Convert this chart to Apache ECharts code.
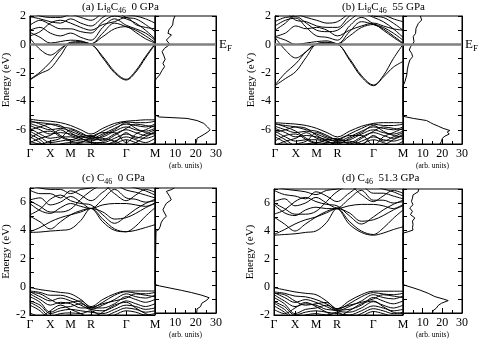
<!DOCTYPE html>
<html lang="en">
<head>
<meta charset="UTF-8">
<title>Band structures</title>
<script src="https://cdn.jsdelivr.net/npm/echarts@6/dist/echarts.min.js"></script>
<style>html,body{margin:0;padding:0;background:#fff;}</style>
</head>
<body>
<div id="main" style="width:479px;height:340px;"></div>
<script>
// k-path samples (simple cubic, path length units): G-X-M-R-G-M
var kPoints = [0, 0.25, 0.5, 0.75, 1.0, 1.25, 1.5, 1.79, 2.08, 2.366, 2.6, 2.84, 3.073];
var kTicks = [0, 0.5, 1.0, 1.5, 2.366, 3.073];
var kLabels = ['Γ', 'X', 'M', 'R', 'Γ', 'M'];

// (a) Li8C46 0 GPa, energies (eV) at kPoints
var bandsA = [
    [-2.5, -2.05, -1.7, -0.8, 0.05, 0.05, 0.0, -0.95, -2.0, -2.5, -1.95, -0.95, 0.0],
    [-2.45, -1.95, -1.25, -0.4, 0.1, 0.12, 0.02, -0.85, -1.9, -2.45, -1.85, -0.85, 0.05],
    [0.45, -0.35, -0.75, -0.3, 0.15, 0.2, 0.05, 0.55, 1.1, 1.25, 0.85, 0.4, 0.1],
    [0.85, 0.5, 0.1, 0.2, 0.3, 0.25, 0.05, 0.8, 1.5, 1.25, 1.0, 0.6, 0.15],
    [1.0, 1.2, 0.8, 0.6, 0.8, 0.5, 0.3, 1.2, 1.8, 1.35, 1.1, 0.8, 0.3],
    [1.35, 1.7, 1.4, 1.1, 1.1, 0.9, 0.8, 1.6, 2.0, 1.8, 1.5, 1.0, 0.4],
    [1.95, 1.8, 1.6, 1.5, 1.8, 1.5, 1.3, 1.9, 2.3, 1.9, 1.8, 1.4, 0.9],
    [2.3, 2.0, 1.9, 1.9, 2.1, 1.9, 1.7, 2.2, 2.5, 2.1, 2.0, 1.8, 1.5],
    [0.6, 0.9, 1.5, 1.7, 1.5, 1.2, 1.0, 1.4, 1.6, 1.9, 1.4, 1.2, 1.1],
    [-5.25, -5.35, -5.4, -5.5, -5.7, -6.0, -6.3, -5.9, -5.55, -5.4, -5.35, -5.3, -5.3],
    [-5.45, -5.5, -5.6, -5.8, -5.9, -6.2, -6.5, -6.1, -5.7, -5.45, -5.5, -5.5, -5.4],
    [-5.55, -5.8, -6.0, -5.9, -6.1, -6.4, -6.6, -6.3, -5.9, -5.6, -5.7, -5.8, -5.6],
    [-5.7, -6.0, -6.3, -6.2, -6.3, -6.5, -6.6, -6.5, -6.1, -5.8, -6.0, -6.1, -5.9],
    [-5.9, -6.3, -6.6, -6.5, -6.5, -6.7, -6.7, -6.7, -6.3, -6.0, -6.2, -6.4, -6.1],
    [-6.1, -6.5, -6.9, -6.8, -6.7, -6.8, -6.9, -6.9, -6.6, -6.3, -6.5, -6.6, -6.4],
    [-6.3, -6.7, -7.2, -7.0, -6.9, -7.0, -7.1, -7.1, -6.8, -6.5, -6.7, -6.9, -6.6],
    [-6.5, -6.9, -7.4, -7.2, -7.1, -7.2, -7.2, -7.3, -7.0, -6.7, -6.9, -7.1, -6.9],
    [-5.35, -5.6, -5.9, -6.4, -6.7, -6.5, -6.4, -6.8, -6.4, -5.9, -5.6, -5.7, -5.8],
    [-6.0, -5.8, -5.6, -5.7, -6.2, -6.6, -6.8, -6.4, -6.0, -5.5, -5.9, -6.2, -6.3],
    [-6.6, -6.2, -6.1, -6.5, -6.8, -6.9, -6.5, -6.2, -6.2, -6.9, -6.3, -6.0, -5.7],
    [-6.9, -6.6, -6.4, -6.0, -6.4, -6.6, -6.9, -7.0, -6.9, -6.2, -6.6, -6.3, -6.0],
    [-6.8, -7.0, -6.8, -6.6, -6.0, -6.3, -6.5, -6.6, -6.8, -7.1, -6.9, -6.5, -6.2]
];
var dosEA = [2.0, 1.72, 1.37, 1.02, 0.78, 0.67, 0.31, 0.0, -0.27, -0.51, -0.74, -1.04, -1.33, -1.56, -1.84, -2.15, -2.38, -2.54, -4.95, -5.1, -5.2, -5.35, -5.55, -5.8, -6.0, -6.15, -6.3, -6.5, -6.6, -6.85, -7.0];
var dosA = [9.8, 9.0, 8.7, 6.8, 6.4, 8.1, 5.6, 7.3, 4.7, 3.5, 4.2, 5.0, 3.9, 4.7, 3.4, 2.2, 0.8, 0, 0, 2.0, 15.7, 20.7, 24.0, 25.8, 27.1, 26.0, 24.4, 22.0, 20.7, 20.4, 20.0];

// (b) Li8C46 55 GPa
var bandsB = [
    [-2.9, -2.4, -1.9, -0.9, 0.0, 0.05, 0.0, -1.1, -2.3, -2.9, -2.3, -1.6, -1.2],
    [-2.85, -2.0, -1.35, -0.5, 0.05, 0.1, 0.02, -1.0, -2.2, -2.85, -2.2, -1.0, 0.0],
    [0.5, -0.4, -0.95, -0.5, 0.05, 0.15, 0.05, 0.6, 1.2, 1.4, 1.0, 0.5, 0.05],
    [0.55, 0.3, 0.0, 0.1, 0.2, 0.25, 0.05, 0.9, 1.6, 1.4, 1.1, 0.6, 0.1],
    [1.3, 1.7, 1.85, 1.2, 0.6, 0.5, 0.3, 1.3, 1.9, 1.45, 1.2, 0.8, 0.3],
    [1.6, 1.9, 1.95, 1.5, 1.0, 0.9, 1.0, 1.7, 2.2, 1.9, 1.6, 1.1, 0.5],
    [2.0, 2.2, 1.7, 1.6, 1.3, 1.2, 1.2, 2.0, 2.4, 2.0, 1.9, 1.5, 1.0],
    [1.0, 1.5, 2.1, 1.9, 1.7, 1.5, 1.6, 2.2, 2.6, 2.3, 2.1, 1.8, 1.6],
    [0.55, 0.8, 1.3, 1.1, 1.2, 1.0, 0.6, 1.0, 1.3, 1.5, 1.3, 1.1, 1.0],
    [-5.5, -5.55, -5.6, -5.7, -5.9, -6.2, -6.5, -6.1, -5.75, -5.55, -5.5, -5.5, -5.5],
    [-5.6, -5.7, -5.8, -6.0, -6.1, -6.4, -6.7, -6.3, -5.9, -5.6, -5.7, -5.7, -5.6],
    [-5.75, -6.0, -6.2, -6.1, -6.3, -6.6, -6.8, -6.5, -6.1, -5.8, -5.9, -6.0, -5.8],
    [-5.9, -6.2, -6.5, -6.4, -6.5, -6.7, -6.8, -6.7, -6.3, -6.0, -6.2, -6.3, -6.1],
    [-6.1, -6.5, -6.8, -6.7, -6.7, -6.9, -6.9, -6.9, -6.5, -6.2, -6.4, -6.6, -6.3],
    [-6.3, -6.7, -7.1, -7.0, -6.9, -7.0, -7.1, -7.1, -6.8, -6.5, -6.7, -6.8, -6.6],
    [-6.5, -6.9, -7.4, -7.2, -7.1, -7.2, -7.3, -7.3, -7.0, -6.7, -6.9, -7.1, -6.8],
    [-5.55, -5.8, -6.1, -6.6, -6.9, -6.7, -6.6, -7.0, -6.6, -6.1, -5.8, -5.9, -6.0],
    [-6.2, -6.0, -5.8, -5.9, -6.4, -6.8, -7.0, -6.6, -6.2, -5.7, -6.1, -6.4, -6.5],
    [-6.8, -6.4, -6.3, -6.7, -7.0, -7.1, -6.7, -6.4, -6.4, -7.1, -6.5, -6.2, -5.9],
    [-7.1, -6.8, -6.6, -6.2, -6.6, -6.8, -7.1, -7.2, -7.1, -6.4, -6.8, -6.5, -6.2],
    [-7.0, -7.2, -7.0, -6.8, -6.2, -6.5, -6.7, -6.8, -7.0, -7.3, -7.1, -6.7, -6.4]
];
var dosEB = [2.0, 1.72, 1.48, 1.13, 0.78, 0.55, 0.2, 0.0, -0.15, -0.39, -0.62, -0.86, -1.09, -1.44, -1.79, -2.15, -2.61, -2.92, -5.05, -5.2, -5.35, -5.5, -5.6, -5.75, -5.9, -6.05, -6.15, -6.3, -6.45, -6.6, -6.8, -7.0];
var dosB = [8.8, 9.5, 7.8, 6.6, 6.4, 5.2, 5.6, 4.9, 3.9, 3.2, 4.4, 4.9, 3.5, 2.7, 2.2, 1.9, 1.0, 0, 0, 5.2, 12.0, 14.0, 15.4, 18.0, 20.4, 23.8, 22.5, 23.5, 21.3, 20.0, 19.6, 18.8];

// (c) C46 0 GPa
var bandsC = [
    [3.85, 3.88, 3.95, 4.0, 4.1, 4.7, 5.55, 4.6, 4.0, 3.9, 4.0, 4.2, 4.4],
    [3.9, 4.2, 4.6, 4.9, 5.1, 5.3, 5.55, 4.8, 4.1, 3.9, 4.3, 5.0, 5.6],
    [5.0, 4.6, 4.1, 4.6, 5.1, 5.4, 5.55, 5.3, 4.8, 4.9, 5.2, 5.6, 5.9],
    [5.9, 5.4, 5.2, 5.6, 5.9, 5.7, 5.55, 5.8, 5.9, 5.9, 5.8, 5.7, 5.95],
    [6.15, 6.3, 5.8, 6.0, 6.4, 6.0, 5.55, 6.2, 6.9, 6.3, 6.2, 6.0, 6.1],
    [6.85, 6.6, 6.6, 6.3, 6.8, 6.5, 6.1, 6.7, 7.2, 6.85, 6.7, 6.5, 6.3],
    [6.1, 5.7, 5.3, 5.3, 5.5, 6.2, 6.8, 7.2, 6.6, 6.1, 6.5, 6.9, 6.7],
    [7.2, 7.0, 6.9, 6.9, 6.6, 6.9, 7.0, 7.3, 7.5, 7.2, 7.0, 6.8, 6.5],
    [5.1, 5.5, 6.2, 6.5, 6.1, 5.9, 5.8, 5.1, 4.5, 5.0, 5.5, 5.9, 6.2],
    [-0.05, -0.2, -0.3, -0.4, -0.5, -0.9, -1.4, -0.9, -0.5, -0.3, -0.3, -0.3, -0.3],
    [-0.3, -0.4, -0.6, -0.6, -0.8, -1.1, -1.5, -1.1, -0.6, -0.35, -0.45, -0.5, -0.4],
    [-0.35, -0.7, -1.0, -0.8, -1.0, -1.3, -1.6, -1.3, -0.9, -0.5, -0.7, -0.8, -0.6],
    [-0.5, -0.9, -1.3, -1.1, -1.2, -1.5, -1.5, -1.5, -1.2, -0.7, -0.9, -1.1, -0.9],
    [-0.7, -1.1, -1.8, -1.5, -1.4, -1.2, -1.6, -1.7, -1.4, -1.0, -1.2, -1.4, -1.2],
    [-1.0, -1.3, -1.9, -1.7, -1.6, -1.7, -1.8, -1.9, -1.6, -1.3, -1.4, -1.6, -1.5],
    [-1.1, -1.5, -2.1, -1.9, -1.85, -1.9, -1.7, -2.1, -1.8, -1.5, -1.6, -1.8, -1.7],
    [-1.3, -1.7, -2.3, -2.1, -2.0, -2.1, -2.0, -2.3, -2.0, -1.7, -1.8, -2.0, -1.9],
    [-0.4, -0.5, -0.9, -1.2, -1.1, -1.0, -1.45, -1.2, -1.0, -0.8, -0.5, -0.6, -0.7],
    [-1.85, -2.1, -1.7, -1.3, -1.6, -1.9, -2.2, -1.8, -1.3, -1.1, -1.5, -1.9, -2.1]
];
var dosEC = [7.0, 6.88, 6.76, 6.4, 6.15, 5.9, 5.67, 5.43, 5.2, 4.96, 4.73, 4.49, 4.25, 4.02, 3.88, 3.8, 0.05, -0.05, -0.2, -0.37, -0.53, -0.72, -0.9, -1.07, -1.3, -1.54, -1.7, -1.84, -2.0];
var dosC = [9.5, 8.0, 5.6, 7.2, 8.0, 5.6, 4.7, 3.9, 4.7, 5.6, 3.9, 3.0, 2.6, 1.9, 0.5, 0, 0, 2.2, 7.3, 13.0, 18.0, 23.0, 26.6, 25.5, 23.0, 22.4, 20.7, 21.5, 20.5];

// (d) C46 51.3 GPa
var bandsD = [
    [3.7, 3.75, 3.8, 3.9, 4.0, 4.6, 5.6, 4.5, 3.9, 3.7, 3.85, 4.1, 4.3],
    [3.75, 4.1, 4.5, 4.8, 5.0, 5.3, 5.6, 4.7, 4.0, 3.75, 4.2, 4.9, 5.5],
    [5.0, 4.5, 4.0, 4.5, 5.0, 5.4, 5.6, 5.3, 4.7, 4.8, 5.1, 5.5, 5.8],
    [5.9, 5.3, 5.1, 5.5, 5.7, 5.6, 5.6, 5.8, 5.9, 5.9, 5.8, 5.6, 5.9],
    [6.1, 6.3, 5.8, 6.0, 6.4, 6.0, 5.65, 6.3, 6.9, 6.2, 6.2, 6.0, 6.1],
    [6.9, 6.6, 6.5, 6.3, 6.8, 6.5, 6.1, 6.7, 7.2, 6.7, 6.7, 6.5, 6.3],
    [6.0, 5.6, 5.2, 5.2, 5.4, 6.1, 6.8, 7.2, 6.6, 6.1, 6.5, 6.9, 6.7],
    [7.2, 7.0, 6.9, 6.8, 6.6, 6.9, 7.0, 7.3, 7.5, 7.2, 7.0, 6.8, 6.5],
    [5.2, 5.5, 6.1, 6.4, 6.1, 5.9, 5.8, 5.1, 4.5, 5.0, 5.5, 5.9, 6.2],
    [-0.05, -0.2, -0.35, -0.45, -0.55, -1.0, -1.55, -1.0, -0.55, -0.3, -0.3, -0.3, -0.3],
    [-0.35, -0.45, -0.65, -0.7, -0.9, -1.2, -1.6, -1.2, -0.7, -0.4, -0.5, -0.55, -0.45],
    [-0.4, -0.75, -1.1, -0.9, -1.1, -1.4, -1.7, -1.4, -1.0, -0.55, -0.75, -0.85, -0.65],
    [-0.55, -1.0, -1.4, -1.2, -1.3, -1.6, -1.65, -1.6, -1.3, -0.75, -1.0, -1.2, -1.0],
    [-0.75, -1.2, -1.9, -1.6, -1.5, -1.3, -1.7, -1.8, -1.5, -1.05, -1.3, -1.5, -1.3],
    [-1.05, -1.4, -2.0, -1.8, -1.7, -1.8, -1.9, -2.0, -1.7, -1.35, -1.5, -1.7, -1.6],
    [-1.15, -1.6, -2.2, -2.0, -1.9, -2.0, -1.8, -2.2, -1.9, -1.55, -1.7, -1.9, -1.8],
    [-1.35, -1.8, -2.4, -2.2, -2.1, -2.2, -2.1, -2.4, -2.1, -1.75, -1.9, -2.1, -2.0],
    [-0.45, -0.55, -1.0, -1.3, -1.2, -1.1, -1.55, -1.3, -1.1, -0.85, -0.55, -0.65, -0.75],
    [-1.6, -1.9, -1.5, -1.1, -1.4, -1.8, -2.1, -1.7, -1.2, -1.0, -1.4, -1.8, -1.9]
];
var dosED = [7.0, 6.93, 6.8, 6.57, 6.33, 6.1, 5.86, 5.62, 5.38, 5.14, 4.9, 4.67, 4.43, 4.19, 4.02, 3.9, 3.79, 0.07, -0.02, -0.17, -0.33, -0.57, -0.81, -0.98, -1.1, -1.29, -1.45, -1.64, -1.83, -2.0];
var dosD = [8.0, 8.5, 7.7, 5.1, 4.8, 4.3, 5.1, 3.4, 4.8, 3.8, 6.0, 4.8, 5.1, 4.8, 5.1, 2.6, 0, 0, 1.7, 5.1, 8.5, 12.8, 16.2, 20.4, 23.0, 19.6, 17.9, 17.0, 15.3, 15.0];

var FONT = 'Liberation Serif';
var subRich = {s: {fontFamily: FONT, fontSize: 8, padding: [7, 0, 0, 0], color: '#000'}};

var panels = [
    {bands: bandsA, dosE: dosEA, dos: dosA, yMin: -7, yMax: 2, fermi: true,
        band: {left: 27, top: 16, width: 128, height: 128}, box: {left: 155, top: 16, width: 61, height: 128},
        title: '(a) Li{s|8}C{s|46}  0 GPa', tpos: {left: 82, top: 0}},
    {bands: bandsB, dosE: dosEB, dos: dosB, yMin: -7, yMax: 2, fermi: true,
        band: {left: 275, top: 16, width: 128, height: 128}, box: {left: 403, top: 16, width: 59, height: 128},
        title: '(b) Li{s|8}C{s|46}  55 GPa', tpos: {left: 342, top: 0}},
    {bands: bandsC, dosE: dosEC, dos: dosC, yMin: -2, yMax: 7, fermi: false,
        band: {left: 27, top: 188, width: 128, height: 127}, box: {left: 155, top: 188, width: 61, height: 127},
        title: '(c) C{s|46}  0 GPa', tpos: {left: 82, top: 171}},
    {bands: bandsD, dosE: dosED, dos: dosD, yMin: -2, yMax: 7, fermi: false,
        band: {left: 274, top: 189, width: 129, height: 126}, box: {left: 403, top: 189, width: 59, height: 126},
        title: '(d) C{s|46}  51.3 GPa', tpos: {left: 342, top: 171}}
];

var axisLine = {show: true, onZero: false, lineStyle: {color: '#000', width: 1}};
var fermiLine = {color: '#808080', width: 2.5, type: 'solid'};

var grid = [], xAxis = [], yAxis = [], series = [], title = [];

panels.forEach(function (p) {
    var gb = grid.length;
    grid.push(Object.assign({show: true, borderColor: '#000', borderWidth: 1}, p.band));
    grid.push(Object.assign({show: true, borderColor: '#000', borderWidth: 1}, p.box));
    var gd = gb + 1;

    title.push(Object.assign({
        text: p.title, padding: 0,
        textStyle: {fontFamily: FONT, fontSize: 11, fontWeight: 'normal', color: '#000', rich: subRich}
    }, p.tpos));

    // band structure axes
    var xb = xAxis.length;
    xAxis.push({
        type: 'value', gridIndex: gb, min: 0, max: kTicks[kTicks.length - 1],
        axisLine: axisLine, splitLine: {show: false},
        axisTick: {show: true, inside: true, length: 4, customValues: kTicks, lineStyle: {color: '#000'}},
        axisLabel: {
            customValues: kTicks, margin: 4, color: '#000', fontFamily: FONT, fontSize: 12,
            formatter: function (v) {
                for (var i = 0; i < kTicks.length; i++) {
                    if (Math.abs(kTicks[i] - v) < 1e-6) return kLabels[i];
                }
                return '';
            }
        }
    });
    var yb = yAxis.length;
    yAxis.push({
        type: 'value', gridIndex: gb, min: p.yMin, max: p.yMax, interval: 1,
        name: 'Energy (eV)', nameLocation: 'middle', nameGap: 15,
        nameTextStyle: {fontFamily: FONT, fontSize: 11, color: '#000'},
        axisLine: axisLine, splitLine: {show: false},
        axisTick: {inside: true, length: 4, lineStyle: {color: '#000'}},
        axisLabel: {
            margin: 4, color: '#000', fontFamily: FONT, fontSize: 12,
            formatter: function (v) { return v % 2 === 0 ? String(v) : ''; }
        }
    });

    // DOS axes
    var xd = xAxis.length;
    xAxis.push({
        type: 'value', gridIndex: gd, min: 0, max: 30, interval: 10,
        name: '(arb. units)', nameLocation: 'middle', nameGap: 18,
        nameTextStyle: {fontFamily: FONT, fontSize: 7.5, color: '#000'},
        axisLine: axisLine, splitLine: {show: false},
        axisTick: {inside: true, length: 5, lineStyle: {color: '#000'}},
        minorTick: {show: true, splitNumber: 2, length: 3, lineStyle: {color: '#000'}},
        axisLabel: {
            margin: 4, color: '#000', fontFamily: FONT, fontSize: 12,
            formatter: function (v) { return v === 0 ? '' : String(v); }
        }
    });
    var yd = yAxis.length;
    yAxis.push({
        type: 'value', gridIndex: gd, min: p.yMin, max: p.yMax, interval: 1, position: 'left',
        axisLine: axisLine, splitLine: {show: false}, axisLabel: {show: false},
        axisTick: {inside: true, length: 4, lineStyle: {color: '#000'}}
    });
    yAxis.push({
        type: 'value', gridIndex: gd, min: p.yMin, max: p.yMax, interval: 1, position: 'right',
        axisLine: axisLine, splitLine: {show: false}, axisLabel: {show: false},
        axisTick: {inside: true, length: 4, lineStyle: {color: '#000'}}
    });

    p.bands.forEach(function (b, j) {
        var s = {
            type: 'line', xAxisIndex: xb, yAxisIndex: yb, silent: true, animation: false,
            showSymbol: false, smooth: 0.35,
            lineStyle: {color: '#000', width: 1},
            data: kPoints.map(function (k, i) { return [k, b[i]]; })
        };
        if (j === 0 && p.fermi) {
            s.markLine = {silent: true, symbol: 'none', animation: false, label: {show: false},
                lineStyle: fermiLine, data: [{yAxis: 0}]};
        }
        series.push(s);
    });

    var ds = {
        type: 'line', xAxisIndex: xd, yAxisIndex: yd, silent: true, animation: false,
        showSymbol: false, lineStyle: {color: '#000', width: 1},
        data: p.dosE.map(function (e, i) { return [p.dos[i], e]; })
    };
    if (p.fermi) {
        ds.markLine = {
            silent: true, symbol: 'none', animation: false, lineStyle: fermiLine, data: [{yAxis: 0}],
            label: {
                show: true, position: 'end', distance: 3, formatter: '{e|E}{f|F}',
                rich: {e: {fontFamily: FONT, fontSize: 13, color: '#000'},
                    f: {fontFamily: FONT, fontSize: 9, color: '#000', padding: [8, 0, 0, 0]}}
            }
        };
    }
    series.push(ds);
});

var chart = echarts.init(document.getElementById('main'));
chart.setOption({
    backgroundColor: '#fff',
    animation: false,
    title: title,
    grid: grid,
    xAxis: xAxis,
    yAxis: yAxis,
    series: series
});
</script>
</body>
</html>
